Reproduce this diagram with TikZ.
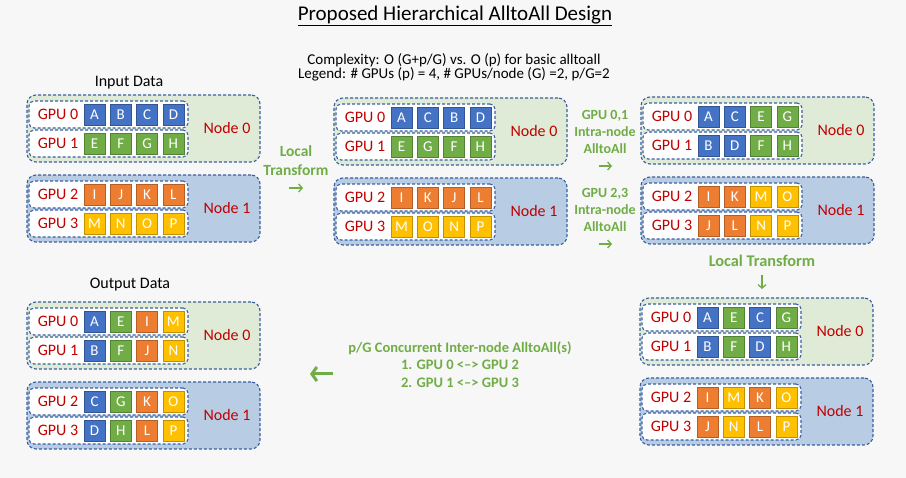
\documentclass[tikz,border=0pt]{standalone}
\usepackage{fontspec}
\setmainfont{Carlito}
\usetikzlibrary{arrows.meta,positioning}

\definecolor{slide}{HTML}{F7F7F7}
\definecolor{dashblue}{HTML}{3A5FA0}
\definecolor{nodegreen}{HTML}{DFEBD6}
\definecolor{nodeblue}{HTML}{B8CCE4}
\definecolor{labelred}{HTML}{C00000}
\definecolor{notegreen}{HTML}{70AD47}
\definecolor{cb}{HTML}{4472C4}
\definecolor{cg}{HTML}{70AD47}
\definecolor{co}{HTML}{ED7D31}
\definecolor{cy}{HTML}{FFC000}

\tikzset{
    nodebox/.style={draw=dashblue, line width=1.1pt, dash pattern=on 3pt off 2pt,
        rounded corners=9pt, minimum width=233pt, minimum height=67pt, inner sep=0pt},
    gpubox/.style={draw=dashblue, fill=white, line width=1.1pt, dash pattern=on 3pt off 2pt,
        rounded corners=5pt, minimum width=159pt, minimum height=27pt, inner sep=0pt},
    cell/.style={fill=c#1, draw=c#1!75!black, line width=0.8pt, minimum size=21pt,
        inner sep=0pt, text=white, font=\fontsize{15}{15}\selectfont},
    redlabel/.style={text=labelred, inner sep=0pt, font=\fontsize{16}{16}\selectfont},
    heading/.style={inner sep=0pt, font=\fontsize{16}{16}\selectfont},
    note/.style={text=notegreen, align=center, inner sep=0pt, font=\bfseries\fontsize{14}{17}\selectfont},
    flow/.style={notegreen, line width=1.3pt, -{Straight Barb[length=3.5pt,width=8pt]}},
}

\begin{document}
\begin{tikzpicture}[x=1pt,y=-1pt]
    \fill[slide] (0,0) rectangle (906,478);
    \useasboundingbox (0,0) rectangle (906,478);

    % one block: two nodes, four gpus
    \def\datablock#1#2#3#4#5#6#7{%
        \node[nodebox, fill=nodegreen] (#1-n0) at (#2+116.5,#3+33.5) {};
        \node[nodebox, fill=nodeblue] (#1-n1) at (#2+116.5,#3+113.5) {};
        \node[redlabel] (#1-l0) at (#2+200,#3+33.5) {Node 0};
        \node[redlabel] (#1-l1) at (#2+200,#3+113.5) {Node 1};
        \foreach \g/\ry/\cells in {0/19.5/{#4},1/48.5/{#5},2/99.5/{#6},3/128.5/{#7}} {
            \node[gpubox] (#1-g\g) at (#2+81.5,#3+\ry) {};
            \node[redlabel] (#1-g\g-l) at (#2+31,#3+\ry) {GPU \g};
            \foreach \ltr/\col [count=\k from 0] in \cells
                \node[cell=\col] (#1-g\g-\k) at (#2+67.5+26.3*\k,#3+\ry) {\ltr};
        }
    }

    % title and legend
    \node[font=\fontsize{21}{21}\selectfont] (title) at (455,16) {\underline{Proposed Hierarchical AlltoAll Design}};
    \node[align=center, font=\fontsize{15}{14}\selectfont] (legend) at (454,67)
        {Complexity: O (G+p/G) vs. O (p) for basic alltoall\\Legend: \# GPUs (p) = 4, \# GPUs/node (G) =2, p/G=2};

    % the five stages
    \node[heading] (inlabel) at (129,83) {Input Data};
    \datablock{in}{27}{95}{A/b,B/b,C/b,D/b}{E/g,F/g,G/g,H/g}{I/o,J/o,K/o,L/o}{M/y,N/y,O/y,P/y}
    \datablock{lt}{334}{98}{A/b,C/b,B/b,D/b}{E/g,G/g,F/g,H/g}{I/o,K/o,J/o,L/o}{M/y,O/y,N/y,P/y}
    \datablock{ia}{641}{97}{A/b,C/b,E/g,G/g}{B/b,D/b,F/g,H/g}{I/o,K/o,M/y,O/y}{J/o,L/o,N/y,P/y}
    \datablock{lx}{640}{298}{A/b,E/g,C/b,G/g}{B/b,F/g,D/b,H/g}{I/o,M/y,K/o,O/y}{J/o,N/y,L/o,P/y}
    \node[heading] (outlabel) at (130,285) {Output Data};
    \datablock{out}{27}{302}{A/b,E/g,I/o,M/y}{B/b,F/g,J/o,N/y}{C/b,G/g,K/o,O/y}{D/b,H/g,L/o,P/y}

    % steps
    \node[note, font=\bfseries\fontsize{15.5}{19}\selectfont] (step1) at (296,160.5) {Local\\Transform};
    \coordinate (step1-s) at (289,188);
    \coordinate (step1-e) at (303,188);
    \draw[flow] (step1-s) -- (step1-e);

    \node[note] (step2a) at (605,132) {GPU 0,1\\Intra-node\\AlltoAll};
    \coordinate (step2a-s) at (599,166);
    \coordinate (step2a-e) at (612,166);
    \draw[flow] (step2a-s) -- (step2a-e);

    \node[note] (step2b) at (605,209.5) {GPU 2,3\\Intra-node\\AlltoAll};
    \coordinate (step2b-s) at (599,244);
    \coordinate (step2b-e) at (612,244);
    \draw[flow] (step2b-s) -- (step2b-e);

    \node[note, font=\bfseries\fontsize{16.3}{19}\selectfont] (step3) at (762,261) {Local Transform};
    \coordinate (step3-s) at (762,275);
    \coordinate (step3-e) at (762,289);
    \draw[flow] (step3-s) -- (step3-e);

    \node[note, font=\bfseries\fontsize{14.5}{17.5}\selectfont] (step4) at (460,364.5)
        {p/G Concurrent Inter-node AlltoAll(s)\\1. GPU 0 <--> GPU 2\\2. GPU 1 <--> GPU 3};
    \coordinate (step4-s) at (333,374);
    \coordinate (step4-e) at (310,374);
    \draw[flow, line width=3pt, -{Straight Barb[length=5pt,width=14pt]}] (step4-s) -- (step4-e);
\end{tikzpicture}
\end{document}
